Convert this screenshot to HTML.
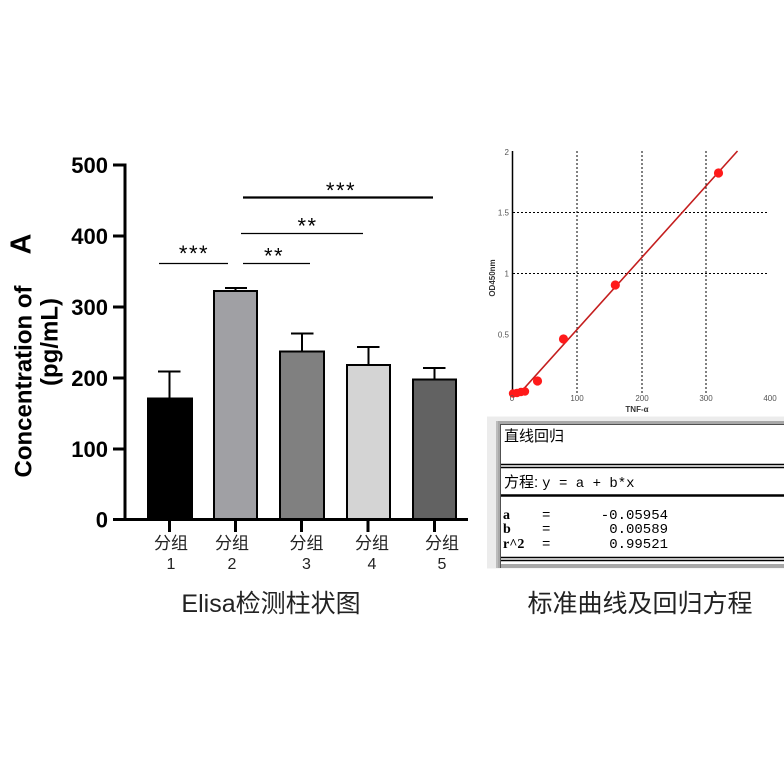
<!DOCTYPE html>
<html>
<head>
<meta charset="utf-8">
<style>
  html, body { margin:0; padding:0; background:#ffffff; }
  body { width:784px; height:782px; overflow:hidden; }
  svg { display:block; }
  .lat { font-family: "Liberation Sans", "Noto Sans CJK SC", sans-serif; }
  .cjk { font-family: "Liberation Sans", "Noto Sans CJK SC", sans-serif; }
  .mono { font-family: "Liberation Mono", "Noto Sans CJK SC", monospace; }
  .ser { font-family: "Liberation Serif", "Noto Serif CJK SC", serif; }
</style>
</head>
<body>
<svg width="784" height="782" viewBox="0 0 784 782" xmlns="http://www.w3.org/2000/svg">
  <rect x="0" y="0" width="784" height="782" fill="#ffffff"/>

  <!-- ================= BAR CHART ================= -->
  <text class="lat" transform="translate(31.5,381.5) rotate(-90)" text-anchor="middle" font-size="24" font-weight="bold" fill="#000">Concentration of</text>
  <text class="lat" transform="translate(30.5,244) rotate(-90)" text-anchor="middle" font-size="29" font-weight="bold" fill="#000">A</text>
  <text class="lat" transform="translate(57.5,342) rotate(-90)" text-anchor="middle" font-size="24" font-weight="bold" fill="#000">(pg/mL)</text>

  <g class="lat" font-size="22" font-weight="bold" fill="#000" text-anchor="end">
    <text x="108" y="173">500</text>
    <text x="108" y="244">400</text>
    <text x="108" y="315">300</text>
    <text x="108" y="386">200</text>
    <text x="108" y="457">100</text>
    <text x="108" y="527.5">0</text>
  </g>

  <g stroke="#000" stroke-width="2">
    <rect x="148" y="398.5" width="44" height="121" fill="#000000"/>
    <rect x="214" y="291" width="43" height="228.5" fill="#a0a0a4"/>
    <rect x="280" y="351.5" width="44" height="168" fill="#808080"/>
    <rect x="347" y="365" width="43" height="154.5" fill="#d4d4d4"/>
    <rect x="413" y="379.5" width="43" height="140" fill="#626262"/>
  </g>

  <g stroke="#000" stroke-width="2" fill="none">
    <line x1="169.5" y1="398" x2="169.5" y2="371.5"/>
    <line x1="158" y1="371.5" x2="180.5" y2="371.5"/>
    <line x1="235.5" y1="290" x2="235.5" y2="288"/>
    <line x1="225" y1="288" x2="247" y2="288"/>
    <line x1="302" y1="351" x2="302" y2="333.5"/>
    <line x1="291" y1="333.5" x2="313.5" y2="333.5"/>
    <line x1="368.5" y1="364" x2="368.5" y2="347"/>
    <line x1="357" y1="347" x2="379.5" y2="347"/>
    <line x1="434.5" y1="379" x2="434.5" y2="368"/>
    <line x1="423" y1="368" x2="445.5" y2="368"/>
  </g>

  <g stroke="#000" stroke-width="3" fill="none">
    <line x1="125" y1="163.5" x2="125" y2="521"/>
    <line x1="123.5" y1="519.5" x2="468" y2="519.5"/>
    <line x1="113" y1="165" x2="125" y2="165"/>
    <line x1="113" y1="236" x2="125" y2="236"/>
    <line x1="113" y1="307" x2="125" y2="307"/>
    <line x1="113" y1="378" x2="125" y2="378"/>
    <line x1="113" y1="449" x2="125" y2="449"/>
    <line x1="113" y1="519.5" x2="125" y2="519.5"/>
    <line x1="169.5" y1="519" x2="169.5" y2="532"/>
    <line x1="235.5" y1="519" x2="235.5" y2="532"/>
    <line x1="301.5" y1="519" x2="301.5" y2="532"/>
    <line x1="368" y1="519" x2="368" y2="532"/>
    <line x1="434.5" y1="519" x2="434.5" y2="532"/>
  </g>

  <g class="cjk" font-size="17" fill="#222" text-anchor="middle">
    <text x="171" y="549">分组</text>
    <text x="232" y="549">分组</text>
    <text x="306.5" y="549">分组</text>
    <text x="372" y="549">分组</text>
    <text x="442" y="549">分组</text>
  </g>
  <g class="lat" font-size="16" fill="#222" text-anchor="middle">
    <text x="171" y="569">1</text>
    <text x="232" y="569">2</text>
    <text x="306.5" y="569">3</text>
    <text x="372" y="569">4</text>
    <text x="442" y="569">5</text>
  </g>

  <g stroke="#000" fill="none">
    <line x1="159" y1="263.5" x2="228" y2="263.5" stroke-width="1.2"/>
    <line x1="243" y1="263.5" x2="310" y2="263.5" stroke-width="1.2"/>
    <line x1="241" y1="233.5" x2="363" y2="233.5" stroke-width="1.2"/>
    <line x1="243" y1="197.5" x2="433" y2="197.5" stroke-width="2.2"/>
  </g>
  <g class="lat" font-size="22" fill="#000" text-anchor="middle" letter-spacing="1.5">
    <text x="194" y="261">***</text>
    <text x="274" y="263.5">**</text>
    <text x="307.5" y="233.5">**</text>
    <text x="341" y="198">***</text>
  </g>

  <text class="cjk" x="271" y="612" font-size="25" fill="#222" text-anchor="middle">Elisa检测柱状图</text>

  <!-- ================= STANDARD CURVE ================= -->
  <g stroke="#000" stroke-width="1" stroke-dasharray="2,2" fill="none">
    <line x1="577" y1="151" x2="577" y2="394"/>
    <line x1="642" y1="151" x2="642" y2="394"/>
    <line x1="706" y1="151" x2="706" y2="394"/>
    <line x1="513" y1="212.5" x2="767" y2="212.5"/>
    <line x1="513" y1="273.5" x2="767" y2="273.5"/>
  </g>
  <line x1="512.5" y1="151" x2="512.5" y2="396" stroke="#000" stroke-width="1.5"/>

  <line x1="518.8" y1="394.3" x2="737.5" y2="151" stroke="#c41e1e" stroke-width="1.6"/>

  <g fill="#ff1a1a">
    <circle cx="718.5" cy="173" r="4.6"/>
    <circle cx="615.3" cy="285" r="4.6"/>
    <circle cx="563.5" cy="339" r="4.6"/>
    <circle cx="537.5" cy="381" r="4.6"/>
    <circle cx="525" cy="391.5" r="4.2"/>
    <circle cx="521" cy="392" r="4.2"/>
    <circle cx="517" cy="393" r="4.2"/>
    <circle cx="513" cy="393.5" r="4.2"/>
  </g>

  <g class="lat" font-size="8" fill="#555" text-anchor="end">
    <text x="509" y="155">2</text>
    <text x="509" y="215.5">1.5</text>
    <text x="509" y="276.5">1</text>
    <text x="509" y="337.5">0.5</text>
  </g>
  <g class="lat" font-size="8" fill="#555" text-anchor="middle">
    <text x="512" y="401">0</text>
    <text x="577" y="401">100</text>
    <text x="642" y="401">200</text>
    <text x="706" y="401">300</text>
    <text x="770" y="401">400</text>
  </g>
  <text class="lat" x="637" y="412" font-size="8" font-weight="bold" fill="#333" text-anchor="middle">TNF-α</text>
  <text class="lat" transform="translate(495,278) rotate(-90)" font-size="8" font-weight="bold" fill="#333" text-anchor="middle">OD450nm</text>

  <!-- ================= REGRESSION BOX ================= -->
  <rect x="487" y="416.5" width="297" height="152" fill="#ececec"/>
  <rect x="496" y="421" width="288" height="147" fill="#a8a8a8"/>
  <rect x="501" y="425" width="283" height="139" fill="#ffffff"/>
  <line x1="500" y1="424.5" x2="784" y2="424.5" stroke="#505050" stroke-width="1"/>
  <line x1="500.5" y1="424.5" x2="500.5" y2="568" stroke="#505050" stroke-width="1"/>
  <line x1="497" y1="421" x2="497" y2="568" stroke="#d0d0d0" stroke-width="1"/>

  <g stroke="#000">
    <line x1="501" y1="464.5" x2="784" y2="464.5" stroke-width="1.5"/>
    <line x1="501" y1="467.5" x2="784" y2="467.5" stroke-width="1.5"/>
    <line x1="501" y1="495.5" x2="784" y2="495.5" stroke-width="2.5"/>
    <line x1="501" y1="557.5" x2="784" y2="557.5" stroke-width="1.5"/>
    <line x1="501" y1="560.5" x2="784" y2="560.5" stroke-width="1.5"/>
  </g>

  <text class="cjk" x="504" y="441" font-size="15" fill="#000">直线回归</text>
  <text x="504" y="487" font-size="15" fill="#000"><tspan class="cjk">方程:</tspan><tspan class="mono" font-size="14" dx="4">y = a + b*x</tspan></text>

  <g class="ser" font-size="14" font-weight="bold" fill="#000">
    <text x="503" y="519">a</text>
    <text x="503" y="533">b</text>
    <text x="503" y="548">r^2</text>
  </g>
  <g class="mono" font-size="14" fill="#000">
    <text x="542" y="519">=</text>
    <text x="542" y="533">=</text>
    <text x="542" y="548">=</text>
  </g>
  <g class="mono" font-size="14" fill="#000" text-anchor="end">
    <text x="668" y="519">-0.05954</text>
    <text x="668" y="533">0.00589</text>
    <text x="668" y="548">0.99521</text>
  </g>

  <text class="cjk" x="640" y="612" font-size="25" fill="#222" text-anchor="middle">标准曲线及回归方程</text>
</svg>
</body>
</html>
